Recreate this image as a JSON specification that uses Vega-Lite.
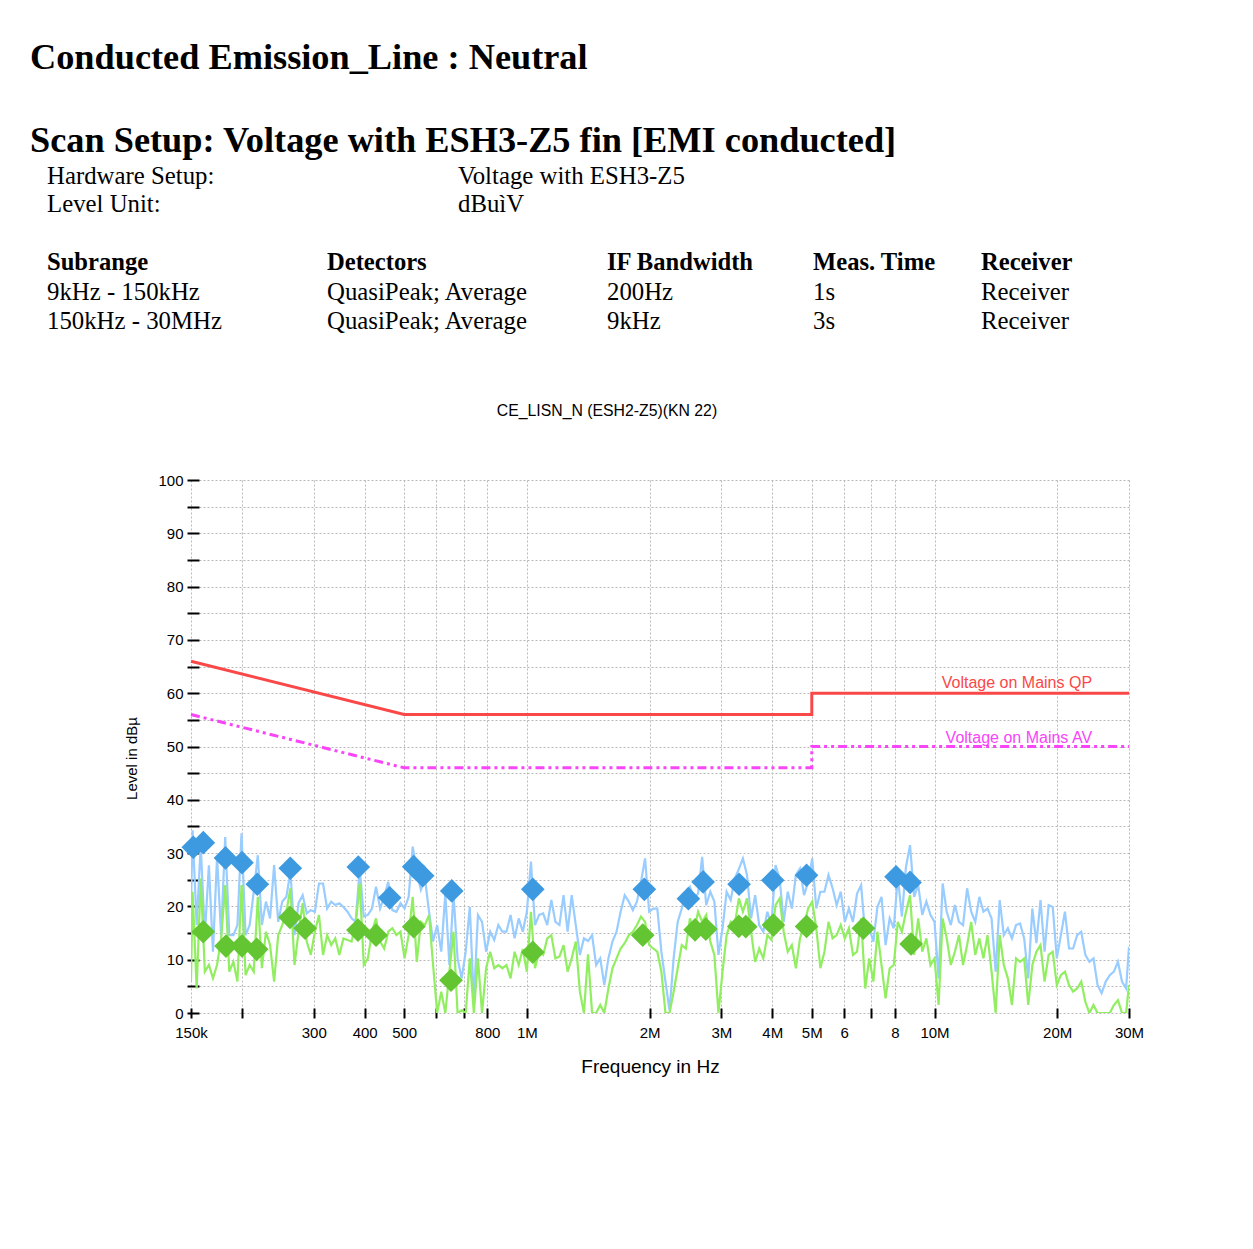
{
"$schema": "https://vega.github.io/schema/vega-lite/v6.json",
"width": 938, "height": 533,
"autosize": {"type": "none"},
"padding": {"left": 191, "top": 480, "right": 124, "bottom": 236},
"background": "white",
"config": {"view": {"stroke": null}, "font": "Liberation Sans", "axis": {"labelFont": "Liberation Sans", "titleFont": "Liberation Sans"}},
"datasets": {
"trace": [
{"f":150000,"qp":20,"av":6},{"f":151360,"qp":34.3,"av":22.75},{"f":154880,"qp":16.5,"av":4.6},{"f":158490,"qp":31.5,"av":25.25},{"f":162180,"qp":14.6,"av":7.75},{"f":165960,"qp":27.7,"av":9},{"f":169820,"qp":11.5,"av":6.5},{"f":173780,"qp":29.3,"av":9},{"f":177830,"qp":14.6,"av":13.9},{"f":181970,"qp":33,"av":24},{"f":186210,"qp":14.6,"av":7.75},{"f":190550,"qp":14.6,"av":9.6},{"f":194980,"qp":16.5,"av":5.9},{"f":199530,"qp":33.7,"av":24},{"f":204170,"qp":14.6,"av":7.1},{"f":208930,"qp":16.5,"av":9},{"f":213800,"qp":22.75,"av":7.75},{"f":218780,"qp":29.6,"av":21.8},{"f":223870,"qp":16.5,"av":8.4},{"f":229090,"qp":20.9,"av":15.25},{"f":234420,"qp":17.75,"av":12.75},{"f":239880,"qp":27.75,"av":5.9},{"f":245470,"qp":17.1,"av":14.6},{"f":251190,"qp":20.9,"av":16.5},{"f":257040,"qp":21.8,"av":19},{"f":263030,"qp":26.5,"av":23.4},{"f":269150,"qp":14.6,"av":9},{"f":275420,"qp":20.6,"av":15.25},{"f":281840,"qp":22.1,"av":20.6},{"f":288400,"qp":18.7,"av":13.4},{"f":295120,"qp":19.3,"av":10.9},{"f":302000,"qp":19,"av":15.25},{"f":309030,"qp":24.3,"av":18.4},{"f":316230,"qp":24.3,"av":10.9},{"f":323590,"qp":19.6,"av":14.6},{"f":331130,"qp":20.9,"av":12.75},{"f":338840,"qp":20.25,"av":14},{"f":346740,"qp":20.6,"av":10.9},{"f":354810,"qp":19.9,"av":14},
{"f":363080,"qp":19,"av":13.7},{"f":371540,"qp":17.75,"av":13.4},{"f":380190,"qp":17.1,"av":16.5},{"f":389050,"qp":27.1,"av":24.3},{"f":398110,"qp":18.1,"av":9},{"f":407380,"qp":18.4,"av":10.25},{"f":416870,"qp":19.6,"av":15.25},{"f":426580,"qp":23.7,"av":17.75},{"f":436520,"qp":19.6,"av":13.4},{"f":446680,"qp":21.8,"av":12.1},{"f":457090,"qp":24.6,"av":15.25},{"f":467740,"qp":19.3,"av":15.9},{"f":478630,"qp":19,"av":14.6},{"f":489780,"qp":20.6,"av":15.25},{"f":501190,"qp":19.6,"av":10.25},{"f":512860,"qp":21.8,"av":14.6},{"f":524810,"qp":31.2,"av":21.8},{"f":537030,"qp":26.5,"av":9.6},{"f":549540,"qp":23.1,"av":17.1},{"f":562340,"qp":25.25,"av":16.5},{"f":575440,"qp":19,"av":18.4},{"f":588840,"qp":13.4,"av":9},{"f":602560,"qp":16.5,"av":0},{"f":616600,"qp":11.5,"av":4},{"f":630960,"qp":22.4,"av":0},{"f":645650,"qp":9,"av":7.75},{"f":660690,"qp":22.4,"av":15.25},{"f":676080,"qp":10.25,"av":0},{"f":691830,"qp":6.5,"av":0.5},{"f":707950,"qp":11.5,"av":0},{"f":724440,"qp":19.9,"av":10.25},{"f":741310,"qp":2.1,"av":0},{"f":758580,"qp":18.4,"av":10.25},{"f":776250,"qp":17.1,"av":0},{"f":794330,"qp":11.5,"av":8.4},{"f":812830,"qp":15.25,"av":11.5},{"f":831760,"qp":13.7,"av":8.4},{"f":851140,"qp":16.5,"av":9},{"f":870960,"qp":15.25,"av":8.4},
{"f":891250,"qp":15.25,"av":9},{"f":912010,"qp":18.4,"av":6.5},{"f":933250,"qp":14,"av":11.5},{"f":954990,"qp":17.75,"av":9},{"f":977240,"qp":15.25,"av":12},{"f":1000000,"qp":19,"av":7.75},{"f":1023300,"qp":28.4,"av":19},{"f":1047100,"qp":16.5,"av":8.4},{"f":1071500,"qp":18.4,"av":11.5},{"f":1096500,"qp":18.7,"av":10.9},{"f":1122000,"qp":16.5,"av":14},{"f":1148200,"qp":21.2,"av":14.6},{"f":1174900,"qp":17.1,"av":10.25},{"f":1202300,"qp":16.5,"av":10.6},{"f":1230300,"qp":22.1,"av":12.75},{"f":1258900,"qp":15.25,"av":7.75},{"f":1288200,"qp":22.1,"av":10.25},{"f":1318300,"qp":16.5,"av":13.4},{"f":1349000,"qp":10.9,"av":4},{"f":1380400,"qp":14,"av":0},{"f":1412500,"qp":13.5,"av":11},{"f":1445400,"qp":14.6,"av":0},{"f":1479100,"qp":9,"av":0},{"f":1513600,"qp":10.25,"av":1.5},{"f":1548800,"qp":5.25,"av":0},{"f":1584900,"qp":10.25,"av":4.6},{"f":1621800,"qp":13.4,"av":8.4},{"f":1659600,"qp":15.25,"av":10.25},{"f":1698200,"qp":19,"av":12.1},{"f":1737800,"qp":22.1,"av":13.1},{"f":1778300,"qp":20.9,"av":14.6},{"f":1819700,"qp":19.3,"av":15.25},{"f":1862100,"qp":20.9,"av":16.5},{"f":1905500,"qp":24.6,"av":18.1},{"f":1949800,"qp":29,"av":17.1},{"f":1995300,"qp":19,"av":12.75},{"f":2041700,"qp":19.6,"av":12.1},{"f":2089300,"qp":19.6,"av":11.5},{"f":2138000,"qp":11.5,"av":7.75},
{"f":2187800,"qp":5.9,"av":0},{"f":2238700,"qp":0.5,"av":0},{"f":2290900,"qp":10.25,"av":4},{"f":2344200,"qp":17.1,"av":8.4},{"f":2398800,"qp":19.6,"av":12.75},{"f":2454700,"qp":22.75,"av":12.1},{"f":2511900,"qp":23.7,"av":17.75},{"f":2570400,"qp":21.5,"av":15.25},{"f":2630300,"qp":22.4,"av":19},{"f":2691500,"qp":29.3,"av":17.1},{"f":2754200,"qp":20.25,"av":18.4},{"f":2818400,"qp":22.75,"av":13.4},{"f":2884000,"qp":20.9,"av":10.9},{"f":2951200,"qp":10.9,"av":0},{"f":3020000,"qp":15.9,"av":7.75},{"f":3090300,"qp":22.75,"av":14.6},{"f":3162300,"qp":21.2,"av":17.1},{"f":3235900,"qp":25.25,"av":16.5},{"f":3311300,"qp":27,"av":21.5},{"f":3388400,"qp":29,"av":19},{"f":3467400,"qp":25.9,"av":21.5},{"f":3548100,"qp":17.75,"av":15.25},{"f":3630800,"qp":22.1,"av":9.6},{"f":3715400,"qp":16.5,"av":12.1},{"f":3801900,"qp":15.25,"av":10.25},{"f":3890500,"qp":19,"av":14.6},{"f":3981100,"qp":16.5,"av":13.7},{"f":4073800,"qp":27.75,"av":20.25},{"f":4168700,"qp":25.25,"av":21.5},{"f":4265800,"qp":17.1,"av":15.25},{"f":4365200,"qp":22.75,"av":11.5},{"f":4466800,"qp":19.6,"av":12.75},{"f":4570900,"qp":25.9,"av":8.4},{"f":4677400,"qp":27.1,"av":14},{"f":4786300,"qp":22.1,"av":16.5},{"f":4897800,"qp":24.6,"av":19.6},{"f":5011900,"qp":29,"av":20.9},{"f":5128600,"qp":19.6,"av":15.9},{"f":5248100,"qp":22.75,"av":8.4},
{"f":5370300,"qp":22.75,"av":11.5},{"f":5495400,"qp":25.9,"av":17.1},{"f":5623400,"qp":23.4,"av":14},{"f":5754400,"qp":20.25,"av":14.6},{"f":5888400,"qp":22.75,"av":16.5},{"f":6025600,"qp":17.1,"av":14},{"f":6166000,"qp":19.6,"av":15.9},{"f":6309600,"qp":17.1,"av":10.9},{"f":6456500,"qp":22.4,"av":11.5},{"f":6606900,"qp":24,"av":17.75},{"f":6760800,"qp":14.6,"av":4.6},{"f":6918300,"qp":15.9,"av":10.25},{"f":7079500,"qp":13.4,"av":5.9},{"f":7244400,"qp":19.9,"av":15.25},{"f":7413100,"qp":21.8,"av":9},{"f":7585800,"qp":12.75,"av":2.75},{"f":7762500,"qp":17.75,"av":8.4},{"f":7943300,"qp":15.9,"av":9},{"f":8128300,"qp":25.6,"av":17.1},{"f":8317600,"qp":18.1,"av":15.25},{"f":8511400,"qp":27.4,"av":19},{"f":8709600,"qp":31.5,"av":22.1},{"f":8912500,"qp":21.8,"av":10.9},{"f":9120100,"qp":24,"av":17.75},{"f":9332500,"qp":18.4,"av":11.5},{"f":9549900,"qp":20.9,"av":14},{"f":9772400,"qp":18.4,"av":9},{"f":10000000,"qp":17.1,"av":10.25},{"f":10233000,"qp":6.5,"av":1.5},{"f":10471000,"qp":24.3,"av":17.75},{"f":10715000,"qp":19,"av":14},{"f":10965000,"qp":16.5,"av":9},{"f":11220000,"qp":20.25,"av":11.5},{"f":11482000,"qp":17.1,"av":14.6},{"f":11749000,"qp":16.5,"av":9},{"f":12023000,"qp":23.4,"av":12.75},{"f":12303000,"qp":19,"av":17.1},{"f":12589000,"qp":17.1,"av":10.9},{"f":12882000,"qp":21.8,"av":14},
{"f":13183000,"qp":19,"av":10.25},{"f":13490000,"qp":19.6,"av":14.6},{"f":13804000,"qp":17.75,"av":7.75},{"f":14125000,"qp":7.75,"av":0},{"f":14454000,"qp":21.2,"av":14.6},{"f":14791000,"qp":14.6,"av":9},{"f":15136000,"qp":15.9,"av":6.5},{"f":15488000,"qp":14,"av":1.5},{"f":15849000,"qp":16.5,"av":10.25},{"f":16218000,"qp":16.8,"av":9.6},{"f":16596000,"qp":14,"av":10.25},{"f":16982000,"qp":6.5,"av":1.5},{"f":17378000,"qp":19.6,"av":9},{"f":17783000,"qp":13.1,"av":11.5},{"f":18197000,"qp":21.2,"av":12.75},{"f":18621000,"qp":11.5,"av":5.9},{"f":19055000,"qp":20.25,"av":10.9},{"f":19498000,"qp":19.9,"av":11.5},{"f":19953000,"qp":10.25,"av":5.25},{"f":20417000,"qp":14.6,"av":7.1},{"f":20893000,"qp":19,"av":7.75},{"f":21380000,"qp":12.1,"av":5.25},{"f":21878000,"qp":12.1,"av":4},{"f":22387000,"qp":14.6,"av":4.6},{"f":22909000,"qp":15.25,"av":5.9},{"f":23442000,"qp":10.9,"av":2.1},{"f":23988000,"qp":9.6,"av":0},{"f":24547000,"qp":10.25,"av":1.5},{"f":25119000,"qp":5.25,"av":0},{"f":25704000,"qp":3.7,"av":0},{"f":26303000,"qp":5.9,"av":0},{"f":26915000,"qp":7.1,"av":0},{"f":27542000,"qp":7.75,"av":1.5},{"f":28184000,"qp":9.6,"av":2.4},{"f":28840000,"qp":5.9,"av":0},{"f":29512000,"qp":4.6,"av":0},{"f":30000000,"qp":12.4,"av":5.25}
],
"finals": [
{"f":151960,"level":31.1,"det":"QP"},{"f":160800,"level":31.95,"det":"QP"},{"f":182280,"level":29.1,"det":"QP"},{"f":200090,"level":28.2,"det":"QP"},{"f":218180,"level":24.15,"det":"QP"},{"f":262830,"level":27.15,"det":"QP"},{"f":385890,"level":27.4,"det":"QP"},{"f":460880,"level":21.6,"det":"QP"},{"f":527750,"level":27.45,"det":"QP"},{"f":555270,"level":25.75,"det":"QP"},{"f":654200,"level":22.9,"det":"QP"},{"f":1033950,"level":23.2,"det":"QP"},{"f":1941900,"level":23.2,"det":"QP"},{"f":2490000,"level":21.45,"det":"QP"},{"f":2706200,"level":24.6,"det":"QP"},{"f":3315800,"level":24.15,"det":"QP"},{"f":4011000,"level":24.9,"det":"QP"},{"f":4854600,"level":25.85,"det":"QP"},{"f":8047500,"level":25.55,"det":"QP"},{"f":8710500,"level":24.5,"det":"QP"},
{"f":160800,"level":15.25,"det":"AV"},{"f":182800,"level":12.55,"det":"AV"},{"f":200090,"level":12.6,"det":"AV"},{"f":217440,"level":11.95,"det":"AV"},{"f":262390,"level":17.95,"det":"AV"},{"f":285690,"level":15.9,"det":"AV"},{"f":385240,"level":15.55,"det":"AV"},{"f":426590,"level":14.6,"det":"AV"},{"f":527750,"level":16.2,"det":"AV"},{"f":651600,"level":6.15,"det":"AV"},{"f":1033950,"level":11.4,"det":"AV"},{"f":1924400,"level":14.6,"det":"AV"},{"f":2586000,"level":15.6,"det":"AV"},{"f":2747700,"level":15.75,"det":"AV"},{"f":3310200,"level":16.25,"det":"AV"},{"f":3443600,"level":16.2,"det":"AV"},{"f":4024800,"level":16.5,"det":"AV"},{"f":4854600,"level":16.25,"det":"AV"},{"f":6691500,"level":15.9,"det":"AV"},{"f":8760000,"level":12.95,"det":"AV"}
],
"limits": [
{"f":150000,"level":66,"limit":"QP"},{"f":500000,"level":56,"limit":"QP"},{"f":5000000,"level":56,"limit":"QP"},{"f":5000000,"level":60,"limit":"QP"},{"f":30000000,"level":60,"limit":"QP"},
{"f":150000,"level":56,"limit":"AV"},{"f":500000,"level":46,"limit":"AV"},{"f":5000000,"level":46,"limit":"AV"},{"f":5000000,"level":50,"limit":"AV"},{"f":30000000,"level":50,"limit":"AV"}
],
"limitLabels": [
{"f":24350000,"level":60,"limit":"QP","text":"Voltage on Mains QP"},
{"f":24350000,"level":50,"limit":"AV","text":"Voltage on Mains AV"}
],
"header": [
{"part":"h","col":0,"line":1,"text":"Conducted Emission_Line : Neutral"},
{"part":"h","col":0,"line":2,"text":"Scan Setup: Voltage with ESH3-Z5 fin [EMI conducted]"},
{"part":"s","col":1,"line":3,"text":"Hardware Setup:"},
{"part":"s","col":3,"line":3,"text":"Voltage with ESH3-Z5"},
{"part":"s","col":1,"line":4,"text":"Level Unit:"},
{"part":"s","col":3,"line":4,"text":"dBuìV"},
{"part":"th","col":1,"line":5,"text":"Subrange"},
{"part":"th","col":2,"line":5,"text":"Detectors"},
{"part":"th","col":4,"line":5,"text":"IF Bandwidth"},
{"part":"th","col":5,"line":5,"text":"Meas. Time"},
{"part":"th","col":6,"line":5,"text":"Receiver"},
{"part":"s","col":1,"line":6,"text":"9kHz - 150kHz"},
{"part":"s","col":2,"line":6,"text":"QuasiPeak; Average"},
{"part":"s","col":4,"line":6,"text":"200Hz"},
{"part":"s","col":5,"line":6,"text":"1s"},
{"part":"s","col":6,"line":6,"text":"Receiver"},
{"part":"s","col":1,"line":7,"text":"150kHz - 30MHz"},
{"part":"s","col":2,"line":7,"text":"QuasiPeak; Average"},
{"part":"s","col":4,"line":7,"text":"9kHz"},
{"part":"s","col":5,"line":7,"text":"3s"},
{"part":"s","col":6,"line":7,"text":"Receiver"},
{"part":"ct","col":4,"line":8,"text":"CE_LISN_N (ESH2-Z5)(KN 22)"}
]
},
"layer": [
{
"layer": [
{"data": {"name": "trace"},
 "mark": {"type": "line", "color": "#99ccff", "strokeWidth": 2.2, "clip": true},
 "encoding": {
  "x": {"field": "f", "type": "quantitative", "title": "Frequency in Hz",
   "scale": {"type": "log", "domain": [150000, 30000000], "nice": false},
   "axis": {"values": [150000,200000,300000,400000,500000,600000,700000,800000,1000000,2000000,3000000,4000000,5000000,6000000,7000000,8000000,10000000,20000000,30000000],
    "tickCount": 30,
    "labelExpr": "datum.value==150000?'150k':datum.value==300000?'300':datum.value==400000?'400':datum.value==500000?'500':datum.value==800000?'800':datum.value==1000000?'1M':datum.value==2000000?'2M':datum.value==3000000?'3M':datum.value==4000000?'4M':datum.value==5000000?'5M':datum.value==6000000?'6':datum.value==8000000?'8':datum.value==10000000?'10M':datum.value==20000000?'20M':datum.value==30000000?'30M':''",
    "orient": "bottom", "offset": -5, "domain": false,
    "tickSize": 10, "tickWidth": 2, "tickColor": "black",
    "labelPadding": 7, "labelFontSize": 15, "labelColor": "black", "labelOverlap": false, "labelFlush": false,
    "grid": true, "gridColor": "#b8b8b8", "gridDash": [2, 2], "gridWidth": 1,
    "titleFontSize": 19, "titleFontWeight": "normal", "titleColor": "black", "titleX": 459, "titleY": 58, "titleBaseline": "middle"}},
  "y": {"field": "qp", "type": "quantitative", "title": "Level in dBµ",
   "scale": {"domain": [0, 100], "nice": false},
   "axis": {"values": [0,5,10,15,20,25,30,35,40,45,50,55,60,65,70,75,80,85,90,95,100],
    "tickCount": 30,
    "labelExpr": "datum.value % 10 == 0 ? datum.label : ''",
    "offset": -8, "domain": false,
    "tickSize": 12, "tickWidth": 2, "tickColor": "black",
    "labelPadding": 4, "labelFontSize": 15, "labelColor": "black", "labelOverlap": false, "labelFlush": false,
    "grid": true, "gridColor": "#b8b8b8", "gridDash": [2, 2], "gridWidth": 1,
    "titleFontSize": 15, "titleFontWeight": "normal", "titleColor": "black", "titleX": -68, "titleY": 278, "titleBaseline": "middle"}}
 }},
{"data": {"name": "trace"},
 "mark": {"type": "line", "color": "#90ee60", "strokeWidth": 2.2, "clip": true},
 "encoding": {
  "x": {"field": "f", "type": "quantitative", "title": "Frequency in Hz"},
  "y": {"field": "av", "type": "quantitative", "title": "Level in dBµ"}
 }},
{"data": {"name": "limits"},
 "transform": [{"filter": "datum.limit === 'QP'"}],
 "mark": {"type": "line", "color": "#fa4848", "strokeWidth": 3},
 "encoding": {
  "x": {"field": "f", "type": "quantitative", "title": "Frequency in Hz", "sort": null},
  "y": {"field": "level", "type": "quantitative", "title": "Level in dBµ"}
 }},
{"data": {"name": "limits"},
 "transform": [{"filter": "datum.limit === 'AV'"}],
 "mark": {"type": "line", "color": "#f845f8", "strokeWidth": 3, "strokeDash": [9, 4, 3, 4, 3, 4]},
 "encoding": {
  "x": {"field": "f", "type": "quantitative", "title": "Frequency in Hz", "sort": null},
  "y": {"field": "level", "type": "quantitative", "title": "Level in dBµ"}
 }},
{"data": {"name": "limitLabels"},
 "transform": [{"filter": "datum.limit === 'QP'"}],
 "mark": {"type": "text", "color": "#fa4848", "fontSize": 16, "font": "Liberation Sans", "align": "right", "baseline": "bottom", "dy": -2},
 "encoding": {
  "x": {"field": "f", "type": "quantitative", "title": "Frequency in Hz"},
  "y": {"field": "level", "type": "quantitative", "title": "Level in dBµ"},
  "text": {"field": "text"}
 }},
{"data": {"name": "limitLabels"},
 "transform": [{"filter": "datum.limit === 'AV'"}],
 "mark": {"type": "text", "color": "#f845f8", "fontSize": 16, "font": "Liberation Sans", "align": "right", "baseline": "bottom", "dy": -1},
 "encoding": {
  "x": {"field": "f", "type": "quantitative", "title": "Frequency in Hz"},
  "y": {"field": "level", "type": "quantitative", "title": "Level in dBµ"},
  "text": {"field": "text"}
 }},
{"data": {"name": "finals"},
 "transform": [{"filter": "datum.det === 'QP'"}],
 "mark": {"type": "point", "shape": "diamond", "filled": true, "size": 560, "color": "#3d9ae0", "opacity": 1, "strokeWidth": 0},
 "encoding": {
  "x": {"field": "f", "type": "quantitative", "title": "Frequency in Hz"},
  "y": {"field": "level", "type": "quantitative", "title": "Level in dBµ"}
 }},
{"data": {"name": "finals"},
 "transform": [{"filter": "datum.det === 'AV'"}],
 "mark": {"type": "point", "shape": "diamond", "filled": true, "size": 560, "color": "#63c532", "opacity": 1, "strokeWidth": 0},
 "encoding": {
  "x": {"field": "f", "type": "quantitative", "title": "Frequency in Hz"},
  "y": {"field": "level", "type": "quantitative", "title": "Level in dBµ"}
 }},
{"mark": {"type": "rule", "color": "black", "strokeWidth": 2},
 "encoding": {
  "x": {"datum": 150000, "type": "quantitative"},
  "x2": {"datum": 30000000},
  "y": {"datum": 0, "type": "quantitative"}
 }},
{"mark": {"type": "rule", "color": "black", "strokeWidth": 2},
 "encoding": {
  "x": {"datum": 150000, "type": "quantitative"},
  "y": {"datum": 0, "type": "quantitative"},
  "y2": {"datum": 100}
 }}
]
},
{
"layer": [
{"data": {"name": "header"},
 "transform": [{"filter": "datum.part === 'h'"}],
 "mark": {"type": "text", "font": "Liberation Serif", "fontSize": 36.3, "fontWeight": "bold", "align": "left", "baseline": "alphabetic", "color": "black"},
 "encoding": {
  "x": {"field": "col", "type": "quantitative", "axis": null, "scale": {"domain": [0,1,2,3,4,5,6], "range": [-161,-144,136,267,416,622,790], "nice": false, "zero": false}},
  "y": {"field": "line", "type": "quantitative", "axis": null, "scale": {"domain": [1,2,3,4,5,6,7,8], "range": [-411,-328,-296,-268,-210,-180,-151,-64], "nice": false, "zero": false}},
  "text": {"field": "text"}
 }},
{"data": {"name": "header"},
 "transform": [{"filter": "datum.part === 'th'"}],
 "mark": {"type": "text", "font": "Liberation Serif", "fontSize": 24.6, "fontWeight": "bold", "align": "left", "baseline": "alphabetic", "color": "black"},
 "encoding": {
  "x": {"field": "col", "type": "quantitative", "axis": null, "scale": {"domain": [0,1,2,3,4,5,6], "range": [-161,-144,136,267,416,622,790], "nice": false, "zero": false}},
  "y": {"field": "line", "type": "quantitative", "axis": null, "scale": {"domain": [1,2,3,4,5,6,7,8], "range": [-411,-328,-296,-268,-210,-180,-151,-64], "nice": false, "zero": false}},
  "text": {"field": "text"}
 }},
{"data": {"name": "header"},
 "transform": [{"filter": "datum.part === 's'"}],
 "mark": {"type": "text", "font": "Liberation Serif", "fontSize": 24.8, "fontWeight": "normal", "align": "left", "baseline": "alphabetic", "color": "black"},
 "encoding": {
  "x": {"field": "col", "type": "quantitative", "axis": null, "scale": {"domain": [0,1,2,3,4,5,6], "range": [-161,-144,136,267,416,622,790], "nice": false, "zero": false}},
  "y": {"field": "line", "type": "quantitative", "axis": null, "scale": {"domain": [1,2,3,4,5,6,7,8], "range": [-411,-328,-296,-268,-210,-180,-151,-64], "nice": false, "zero": false}},
  "text": {"field": "text"}
 }},
{"data": {"name": "header"},
 "transform": [{"filter": "datum.part === 'ct'"}],
 "mark": {"type": "text", "font": "Liberation Sans", "fontSize": 15.8, "fontWeight": "normal", "align": "center", "baseline": "alphabetic", "color": "black"},
 "encoding": {
  "x": {"field": "col", "type": "quantitative", "axis": null, "scale": {"domain": [0,1,2,3,4,5,6], "range": [-161,-144,136,267,416,622,790], "nice": false, "zero": false}},
  "y": {"field": "line", "type": "quantitative", "axis": null, "scale": {"domain": [1,2,3,4,5,6,7,8], "range": [-411,-328,-296,-268,-210,-180,-151,-64], "nice": false, "zero": false}},
  "text": {"field": "text"}
 }}
]
}
],
"resolve": {"scale": {"x": "independent", "y": "independent"}}
}
